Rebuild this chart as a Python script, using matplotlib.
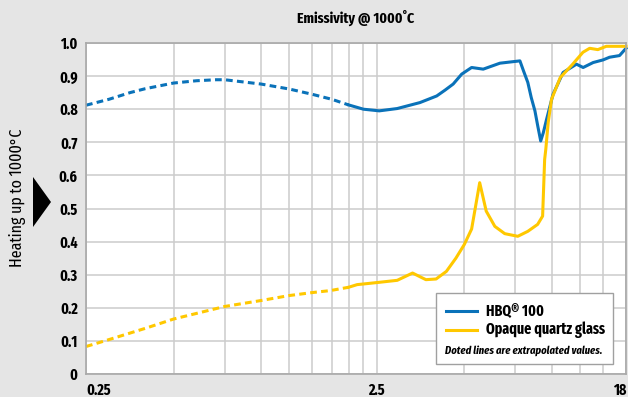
import matplotlib
matplotlib.use("Agg")
import matplotlib.pyplot as plt
from matplotlib.patches import Rectangle, Polygon
from matplotlib.lines import Line2D
from matplotlib.ticker import FixedLocator, NullFormatter

# ---------------- data ----------------
title = "Emissivity @ 1000˚C"
ylabel = "Heating up to 1000°C"
series_names = ["HBQ® 100", "Opaque quartz glass"]
note = "Doted lines are extrapolated values."

x_tick_values = [0.25, 2.5, 18]
x_tick_labels = ["0.25", "2.5", "18"]
x_grid_values = [0.5, 0.75, 1.0, 1.25, 1.5, 1.75, 2.0, 2.25, 2.5,
                 5, 7.5, 10, 12.5, 15]
y_tick_values = [0, 0.1, 0.2, 0.3, 0.4, 0.5, 0.6, 0.7, 0.8, 0.9, 1.0]
y_tick_labels = ["0", "0.1", "0.2", "0.3", "0.4", "0.5", "0.6", "0.7", "0.8", "0.9", "1.0"]

hbq_extrap_x = [0.25, 0.3, 0.354, 0.4, 0.5, 0.6, 0.70, 0.75, 1.0, 1.25, 1.5, 1.75, 2.0]
hbq_extrap_y = [0.812, 0.830, 0.850, 0.862, 0.879, 0.886, 0.889, 0.889, 0.876, 0.861, 0.845, 0.830, 0.813]

hbq_x = [2.0, 2.25, 2.55, 2.94, 3.52, 4.02, 4.3, 4.58, 4.90, 5.30, 5.81, 6.63, 7.77,
         8.0, 8.27, 8.5, 8.75, 8.95, 9.16, 9.35, 9.60, 10.1, 10.94, 12.16, 12.82,
         13.88, 15.02, 15.8, 17.1, 18.0]
hbq_y = [0.813, 0.800, 0.795, 0.802, 0.820, 0.840, 0.858, 0.876, 0.906, 0.926, 0.921, 0.939, 0.946,
         0.915, 0.881, 0.835, 0.795, 0.749, 0.704, 0.729, 0.770, 0.845, 0.911, 0.936, 0.926,
         0.941, 0.949, 0.957, 0.962, 0.984]

opq_extrap_x = [0.25, 0.3, 0.4, 0.5, 0.75, 1.0, 1.25, 1.5, 1.73, 2.0]
opq_extrap_y = [0.083, 0.104, 0.138, 0.166, 0.204, 0.222, 0.237, 0.246, 0.252, 0.262]

opq_x = [2.0, 2.14, 2.31, 2.55, 2.94, 3.32, 3.69, 4.0, 4.34, 4.68, 5.0, 5.3, 5.65,
         5.95, 6.37, 6.89, 7.64, 8.27, 8.94, 9.3, 9.45, 9.54, 9.72, 9.98, 10.7, 11.8,
         12.8, 13.5, 14.4, 15.4, 18.0]
opq_y = [0.262, 0.270, 0.273, 0.277, 0.283, 0.305, 0.285, 0.287, 0.310, 0.350, 0.391, 0.438, 0.578,
         0.492, 0.446, 0.424, 0.416, 0.431, 0.452, 0.477, 0.648, 0.680, 0.760, 0.830, 0.896, 0.936,
         0.972, 0.984, 0.980, 0.990, 0.990]

# ---------------- style ----------------
BLUE = "#0a72b9"
YELLOW = "#ffc800"
BG = "#e5e5e5"
GRID = "#cccccc"
FONT = ["Fira Sans Extra Condensed", "DejaVu Sans"]
plt.rcParams["font.family"] = FONT

fig = plt.figure(figsize=(6.28, 3.97), dpi=100, facecolor=BG)
ax = fig.add_axes([86 / 628, 23 / 397, 540 / 628, 331 / 397])
ax.set_facecolor("white")
ax.set_xscale("log")
ax.set_xlim(0.25, 18)
ax.set_ylim(0, 1.0)

# grid
ax.xaxis.set_major_locator(FixedLocator(x_tick_values))
ax.xaxis.set_minor_locator(FixedLocator(x_grid_values))
ax.xaxis.set_minor_formatter(NullFormatter())
ax.set_xticklabels(x_tick_labels)
ax.set_yticks(y_tick_values)
ax.set_yticklabels(y_tick_labels)
ax.grid(True, which="both", axis="x", color=GRID, lw=1.1)
ax.grid(True, which="major", axis="y", color=GRID, lw=1.1)
ax.tick_params(axis="both", which="both", length=0)
ax.tick_params(axis="y", pad=6, labelsize=11)
ax.tick_params(axis="x", pad=6, labelsize=11)
for lab in ax.get_xticklabels() + ax.get_yticklabels():
    lab.set_fontweight("bold")
xl = ax.get_xticklabels()
xl[0].set_ha("left")
xl[1].set_ha("center")
xl[2].set_ha("right")
for s in ax.spines.values():
    s.set_color("#a8a8a8")
    s.set_linewidth(1.2)
ax.set_axisbelow(True)

# series
dash = (0, (2.2, 1.4))
ax.plot(hbq_extrap_x, hbq_extrap_y, color=BLUE, lw=2.2, linestyle=dash, clip_on=False)
ax.plot(hbq_x, hbq_y, color=BLUE, lw=2.2, solid_joinstyle="round", clip_on=False)
ax.plot(opq_extrap_x, opq_extrap_y, color=YELLOW, lw=2.2, linestyle=dash, clip_on=False)
ax.plot(opq_x, opq_y, color=YELLOW, lw=2.2, solid_joinstyle="round", clip_on=False)

# legend (manual box)
ax.add_patch(Rectangle((0.648, 0.030), 0.328, 0.215, transform=ax.transAxes,
                       facecolor="white", edgecolor="#a0a0a0", lw=1.0, zorder=5))
for yy, col, name in [(0.191, BLUE, series_names[0]), (0.133, YELLOW, series_names[1])]:
    ax.add_line(Line2D([0.667, 0.724], [yy, yy], transform=ax.transAxes,
                       color=col, lw=2.2, zorder=6))
    ax.text(0.741, yy, name, transform=ax.transAxes, fontsize=11, fontweight="bold",
            va="center", ha="left", zorder=6)
ax.text(0.810, 0.070, note, transform=ax.transAxes, fontsize=8.2, fontweight="bold",
        fontstyle="italic", va="center", ha="center", zorder=6)

# title and side label
fig.text(355.5 / 628, 1 - 18 / 397, title, fontsize=10.8, fontweight="bold",
         ha="center", va="center")
fig.text(18 / 628, 1 - 198 / 397, ylabel, fontsize=12.5, rotation=90,
         ha="center", va="center")
fig.patches.append(Polygon([[33 / 628, 1 - 177 / 397], [33 / 628, 1 - 227 / 397],
                            [51 / 628, 1 - 202 / 397]], closed=True,
                           transform=fig.transFigure, facecolor="black",
                           edgecolor="none", figure=fig))

fig.savefig("out.png", dpi=100, facecolor=BG)
